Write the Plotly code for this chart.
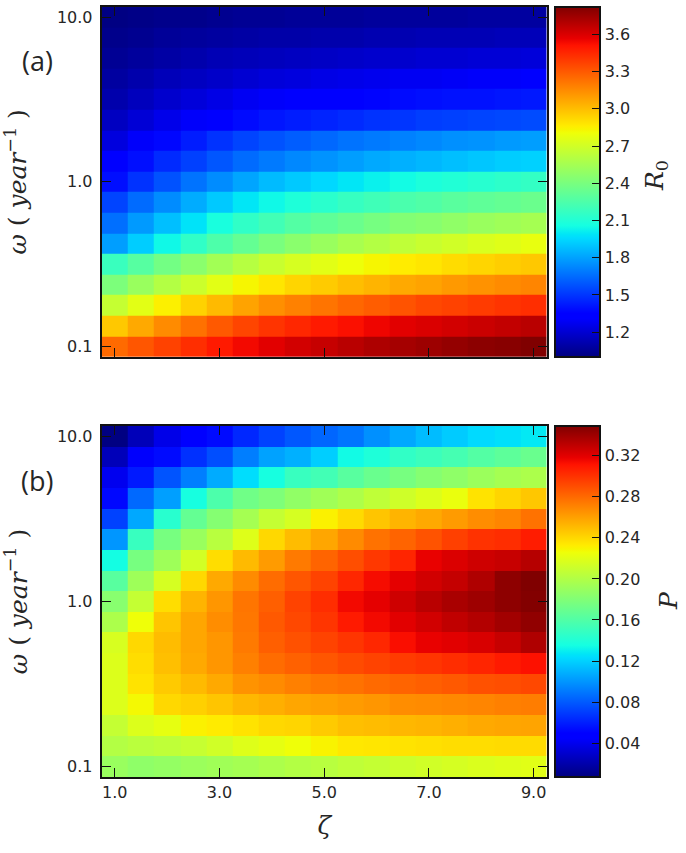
import plotly.graph_objects as go

W, H = 686, 853

zeta = [1.0, 1.5, 2.0, 2.5, 3.0, 3.5, 4.0, 4.5, 5.0, 5.5, 6.0, 6.5, 7.0, 7.5, 8.0, 8.5, 9.0]
omega_edges = [10 ** (-1.0625 + 0.125 * i) for i in range(18)]

x_ticks = [1.0, 3.0, 5.0, 7.0, 9.0]
x_labels = ["1.0", "3.0", "5.0", "7.0", "9.0"]
y_ticks = [0.1, 1.0, 10.0]
y_labels = ["0.1", "1.0", "10.0"]
r0_ticks = [1.2, 1.5, 1.8, 2.1, 2.4, 2.7, 3.0, 3.3, 3.6]
p_ticks = [0.04, 0.08, 0.12, 0.16, 0.20, 0.24, 0.28, 0.32]

# rows run from the lowest omega (bottom) to the highest (top)
r0_values = [
    [3.25, 3.31, 3.37, 3.43, 3.49, 3.54, 3.58, 3.62, 3.65, 3.68, 3.71, 3.73, 3.75, 3.77, 3.79, 3.80, 3.82],
    [2.97, 3.06, 3.15, 3.23, 3.30, 3.36, 3.41, 3.45, 3.49, 3.52, 3.55, 3.58, 3.60, 3.62, 3.64, 3.66, 3.68],
    [2.66, 2.76, 2.85, 2.94, 3.01, 3.08, 3.14, 3.18, 3.22, 3.26, 3.29, 3.32, 3.35, 3.37, 3.39, 3.41, 3.43],
    [2.41, 2.51, 2.60, 2.68, 2.76, 2.83, 2.88, 2.93, 2.96, 3.00, 3.03, 3.06, 3.08, 3.11, 3.13, 3.15, 3.17],
    [2.18, 2.28, 2.38, 2.46, 2.54, 2.61, 2.67, 2.72, 2.76, 2.80, 2.83, 2.86, 2.88, 2.91, 2.93, 2.95, 2.97],
    [1.79, 1.92, 2.04, 2.15, 2.25, 2.33, 2.40, 2.46, 2.51, 2.56, 2.60, 2.64, 2.67, 2.70, 2.73, 2.75, 2.78],
    [1.66, 1.78, 1.88, 1.98, 2.07, 2.15, 2.21, 2.27, 2.31, 2.35, 2.39, 2.43, 2.45, 2.48, 2.51, 2.53, 2.55],
    [1.54, 1.65, 1.74, 1.83, 1.91, 1.99, 2.04, 2.09, 2.13, 2.17, 2.20, 2.24, 2.26, 2.29, 2.31, 2.33, 2.35],
    [1.39, 1.49, 1.58, 1.67, 1.74, 1.81, 1.87, 1.91, 1.95, 1.99, 2.02, 2.05, 2.08, 2.10, 2.12, 2.14, 2.16],
    [1.31, 1.39, 1.47, 1.53, 1.59, 1.65, 1.69, 1.73, 1.76, 1.79, 1.82, 1.84, 1.86, 1.88, 1.90, 1.92, 1.93],
    [1.23, 1.30, 1.37, 1.43, 1.49, 1.54, 1.58, 1.61, 1.64, 1.67, 1.69, 1.71, 1.73, 1.75, 1.76, 1.78, 1.79],
    [1.16, 1.21, 1.26, 1.30, 1.34, 1.38, 1.41, 1.43, 1.45, 1.47, 1.49, 1.50, 1.52, 1.53, 1.54, 1.55, 1.56],
    [1.11, 1.15, 1.19, 1.22, 1.25, 1.28, 1.30, 1.32, 1.34, 1.35, 1.36, 1.38, 1.39, 1.40, 1.40, 1.41, 1.42],
    [1.08, 1.11, 1.14, 1.16, 1.18, 1.20, 1.22, 1.23, 1.25, 1.26, 1.27, 1.28, 1.28, 1.29, 1.30, 1.30, 1.31],
    [1.05, 1.07, 1.09, 1.11, 1.13, 1.14, 1.15, 1.16, 1.17, 1.18, 1.19, 1.19, 1.20, 1.20, 1.21, 1.21, 1.22],
    [1.03, 1.04, 1.06, 1.07, 1.08, 1.09, 1.10, 1.10, 1.11, 1.11, 1.12, 1.12, 1.13, 1.13, 1.13, 1.14, 1.14],
    [1.01, 1.02, 1.03, 1.03, 1.04, 1.05, 1.05, 1.06, 1.06, 1.06, 1.07, 1.07, 1.07, 1.07, 1.08, 1.08, 1.08],
]

p_values = [
    [.190, .186, .188, .191, .193, .195, .198, .201, .203, .206, .208, .211, .213, .215, .217, .219, .220],
    [.201, .204, .206, .209, .213, .219, .222, .226, .230, .234, .235, .236, .237, .238, .238, .239, .239],
    [.208, .218, .222, .231, .233, .236, .240, .241, .245, .249, .250, .252, .253, .255, .257, .258, .259],
    [.218, .228, .240, .243, .247, .252, .255, .258, .260, .262, .264, .267, .268, .269, .270, .272, .273],
    [.218, .236, .245, .251, .257, .265, .268, .272, .275, .277, .280, .282, .284, .286, .289, .290, .292],
    [.218, .238, .249, .257, .264, .272, .279, .283, .287, .291, .294, .297, .299, .302, .305, .309, .312],
    [.216, .240, .250, .258, .264, .274, .284, .289, .294, .299, .304, .313, .318, .320, .323, .328, .335],
    [.198, .226, .247, .258, .267, .275, .286, .292, .299, .309, .315, .320, .325, .330, .334, .339, .344],
    [.183, .208, .238, .253, .264, .276, .284, .294, .302, .315, .319, .326, .332, .337, .340, .345, .348],
    [.163, .192, .215, .240, .257, .268, .279, .287, .294, .304, .314, .319, .325, .329, .335, .345, .349],
    [.135, .176, .192, .214, .238, .251, .262, .274, .282, .290, .298, .305, .318, .322, .326, .328, .333],
    [.100, .150, .176, .190, .203, .219, .240, .250, .258, .268, .277, .282, .288, .295, .300, .302, .308],
    [.072, .106, .143, .168, .182, .195, .208, .215, .231, .239, .247, .253, .257, .262, .267, .270, .277],
    [.052, .085, .103, .136, .158, .173, .179, .187, .193, .199, .206, .212, .218, .224, .236, .241, .246],
    [.040, .058, .078, .092, .107, .124, .136, .150, .154, .163, .170, .176, .182, .186, .191, .195, .198],
    [.024, .044, .053, .066, .076, .092, .104, .109, .119, .134, .139, .147, .151, .155, .161, .165, .170],
    [.008, .024, .038, .046, .053, .063, .072, .079, .084, .089, .098, .106, .113, .118, .123, .125, .128],
]

# matplotlib's jet, with its own break points
jet = [
    [0.00, "rgb(0,0,127)"], [0.11, "rgb(0,0,255)"], [0.125, "rgb(0,0,255)"],
    [0.34, "rgb(0,219,255)"], [0.35, "rgb(0,229,247)"], [0.375, "rgb(21,255,226)"],
    [0.64, "rgb(239,255,8)"], [0.65, "rgb(247,245,0)"], [0.66, "rgb(255,236,0)"],
    [0.89, "rgb(255,19,0)"], [0.91, "rgb(232,0,0)"], [1.00, "rgb(128,0,0)"],
]

PX_L, PX_R = 101.7, 546.7
A_TOP, A_BOT = 6.7, 357.0
B_TOP, B_BOT = 426.0, 777.0
CB_L, CB_R = 555.0, 600.0
TEXT = "#262626"
SANS = "DejaVu Sans"
SERIF = "DejaVu Serif"


def colorbar(top, bot, ticks, fmt):
    return dict(
        x=CB_L / W, xanchor="left", xref="paper",
        y=1 - bot / H, yanchor="bottom", yref="paper",
        len=(bot - top) / H, lenmode="fraction",
        thickness=CB_R - CB_L, thicknessmode="pixels",
        xpad=0, ypad=0, outlinewidth=2, outlinecolor="#111111",
        tickmode="array", tickvals=ticks, ticktext=[fmt % t for t in ticks],
        ticks="inside", ticklen=9, tickwidth=1, tickcolor="#111111",
        tickfont=dict(family=SANS, size=16, color=TEXT),
    )


fig = go.Figure()
fig.add_trace(go.Heatmap(
    x=zeta, y=omega_edges, z=r0_values, xaxis="x", yaxis="y",
    colorscale=jet, zmin=1.0, zmax=3.82,
    colorbar=colorbar(A_TOP, A_BOT, r0_ticks, "%.1f"),
))
fig.add_trace(go.Heatmap(
    x=zeta, y=omega_edges, z=p_values, xaxis="x2", yaxis="y2",
    colorscale=jet, zmin=0.007, zmax=0.349,
    colorbar=colorbar(B_TOP, B_BOT, p_ticks, "%.2f"),
))

frame = dict(showline=True, linewidth=2, linecolor="#111111", mirror="ticks",
             ticks="inside", ticklen=9, tickwidth=1, tickcolor="#111111",
             showgrid=False, zeroline=False,
             tickfont=dict(family=SANS, size=16, color=TEXT))
y_title = dict(text="<i>ω</i>\u00a0(\u00a0<i>year</i><sup>−1</sup>\u00a0)",
               font=dict(family=SERIF, size=25, color=TEXT), standoff=24)


def label(text, px, py, size=25, family=SERIF, angle=0):
    return dict(text=text, x=px / W, y=1 - py / H, xref="paper", yref="paper",
                xanchor="center", yanchor="middle", showarrow=False, textangle=angle,
                font=dict(family=family, size=size, color=TEXT))


fig.update_layout(
    width=W, height=H, autosize=False,
    margin=dict(l=0, r=0, t=0, b=0),
    paper_bgcolor="white", plot_bgcolor="white",
    xaxis=dict(frame, domain=[PX_L / W, PX_R / W], range=[0.75, 9.25], anchor="y",
               tickmode="array", tickvals=x_ticks, ticktext=x_labels, showticklabels=False),
    yaxis=dict(frame, domain=[1 - A_BOT / H, 1 - A_TOP / H], type="log",
               range=[-1.0625, 1.0625], anchor="x", ticklabelstandoff=4,
               tickmode="array", tickvals=y_ticks, ticktext=y_labels, title=y_title),
    xaxis2=dict(frame, domain=[PX_L / W, PX_R / W], range=[0.75, 9.25], anchor="y2",
                tickmode="array", tickvals=x_ticks, ticktext=x_labels,
                title=dict(text="<i>ζ</i>", font=dict(family=SERIF, size=25, color=TEXT), standoff=15)),
    yaxis2=dict(frame, domain=[1 - B_BOT / H, 1 - B_TOP / H], type="log",
                range=[-1.0625, 1.0625], anchor="x2", ticklabelstandoff=4,
                tickmode="array", tickvals=y_ticks, ticktext=y_labels, title=y_title),
    annotations=[
        label("(a)", 37, 61, 27, "Open Sans"),
        label("(b)", 37, 480, 27, "Open Sans"),
        label("<i>R</i><sub>0</sub>", 656, 176, 25, SERIF, -90),
        label("<i>P</i>", 668, 601, 25, SERIF, -90),
    ],
)

fig.write_html("out.html", config={"displayModeBar": False},
               post_script="document.body.style.margin='0';")
